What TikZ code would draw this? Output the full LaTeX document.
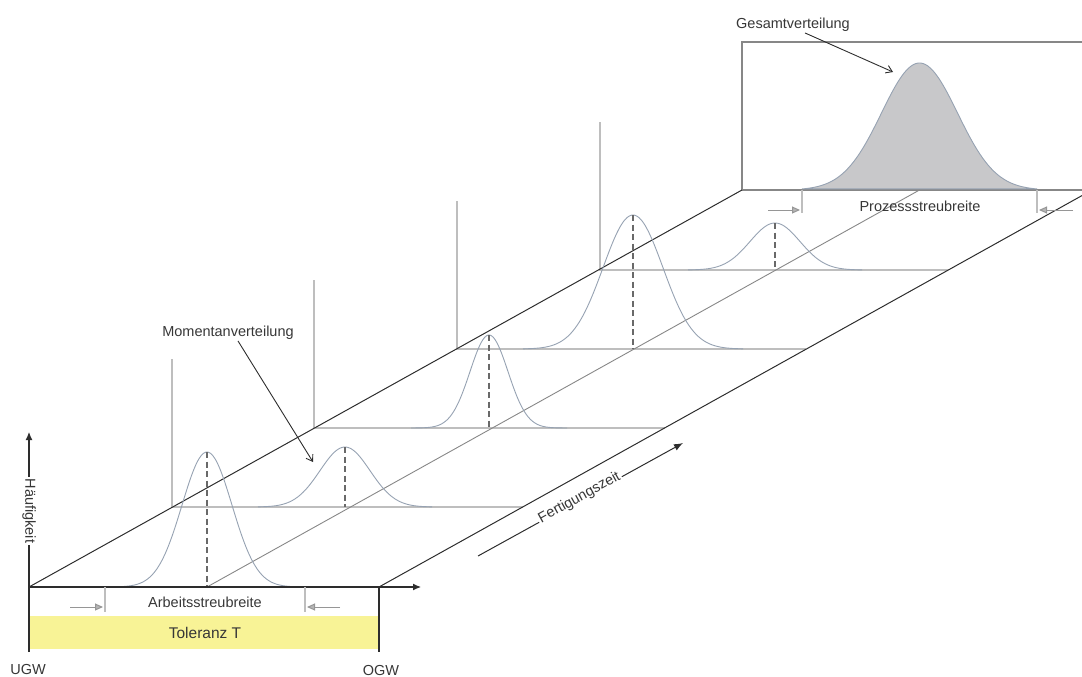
\documentclass[tikz,border=0pt]{standalone}
\usepackage{fontspec}
\setmainfont{Liberation Sans}
\usetikzlibrary{arrows.meta}
\definecolor{curvec}{RGB}{150,162,178}
\definecolor{slicec}{RGB}{190,190,190}
\definecolor{dashc}{RGB}{105,105,105}
\definecolor{diagc}{RGB}{45,45,45}
\definecolor{midc}{RGB}{135,135,135}
\definecolor{tolc}{RGB}{248,243,150}
\definecolor{fillc}{RGB}{200,200,202}
\definecolor{txtc}{RGB}{55,55,55}
\definecolor{spreadc}{RGB}{150,150,150}
\begin{document}
\begin{tikzpicture}[x=1pt,y=-1pt,
  lbl/.style={font=\fontsize{14.5}{16}\selectfont, text=txtc, inner sep=1pt},
  curve/.style={curvec, line width=0.9pt},
  sliceline/.style={slicec, line width=1.1pt},
  meanline/.style={dashc, dash pattern=on 6pt off 3.5pt, line width=1.1pt},
  diag/.style={diagc, line width=1pt},
  midline/.style={midc, line width=0.9pt},
  axisline/.style={diagc, line width=1.1pt},
  callout/.style={-{Straight Barb[length=6pt,width=8pt]}, line width=0.9pt, diagc},
  spread/.style={-{Triangle[length=8pt,width=7pt,fill=spreadc!70]}, spreadc, line width=1pt},
  boxline/.style={midc, line width=1.1pt}]
\useasboundingbox (0,0) rectangle (1082,677);
\clip (0,0) rectangle (1082,677);

% tolerance bar
\fill[tolc] (29,616) rectangle (379,649);
\node[lbl, font=\fontsize{15.5}{17}\selectfont] (tol) at (205,633) {Toleranz T};

% back box (Gesamtverteilung)
\coordinate (b5) at (742,190);
\draw[boxline] (1095,42) -- (742,42) -- (b5) -- (1095,190);
\filldraw[fill=fillc, draw=curvec, line width=0.9pt] plot[domain=802:1037, samples=100, smooth] (\x,{190-127*exp(-((\x-919.5)^2)/(2*38*38))}) -- cycle;

% slice planes
\coordinate (o1) at (172,507);
\coordinate (o2) at (314,428);
\coordinate (o3) at (457,349);
\coordinate (o4) at (600,270);
\draw[sliceline] (172,359) -- (o1) -- (523,507);
\draw[sliceline] (314,280) -- (o2) -- (665,428);
\draw[sliceline] (457,201) -- (o3) -- (806,349);
\draw[sliceline] (600,122) -- (o4) -- (948,270);

% diagonals
\coordinate (f0) at (29,587);
\coordinate (f1) at (379,587);
\coordinate (m0) at (207,587);
\draw[diag] (f0) -- (b5);
\draw[diag] (f1) -- (1092,190);
\draw[midline] (m0) -- (919.5,190);

% distributions
\draw[curve] plot[domain=107:307, samples=90, smooth] (\x,{587-135*exp(-((\x-207)^2)/(2*25*25))});
\draw[meanline] (207,452) -- (m0);
\draw[curve] plot[domain=258:432, samples=90, smooth] (\x,{507-60*exp(-((\x-345)^2)/(2*25*25))});
\draw[meanline] (345,447) -- (345,507);
\draw[curve] plot[domain=411:567, samples=90, smooth] (\x,{428-93*exp(-((\x-489)^2)/(2*19*19))});
\draw[meanline] (489,335) -- (489,428);
\draw[curve] plot[domain=523:743, samples=90, smooth] (\x,{349-134*exp(-((\x-633)^2)/(2*30*30))});
\draw[meanline] (633,215) -- (633,349);
\draw[curve] plot[domain=688:862, samples=90, smooth] (\x,{270-47*exp(-((\x-775)^2)/(2*25*25))});
\draw[meanline] (775,223) -- (775,270);

% front axes
\draw[axisline, -{Latex[length=8pt,width=7pt]}] (29,652) -- (29,432);
\draw[axisline, -{Latex[length=8pt,width=7pt]}] (f0) -- (421,587);
\draw[axisline] (f1) -- (379,652);
\node[lbl, rotate=-90, fill=white, inner sep=1.5pt] (hf) at (29,511) {Häufigkeit};

% Arbeitsstreubreite
\draw[sliceline] (105,587) -- (105,612);
\draw[sliceline] (305,587) -- (305,612);
\node[lbl] (asb) at (205,602) {Arbeitsstreubreite};
\coordinate (al) at (70,607);
\coordinate (ar) at (340,607);
\draw[spread] (al) -- (103,607);
\draw[spread] (ar) -- (307,607);

% Prozessstreubreite
\draw[sliceline] (802,190) -- (802,213);
\draw[sliceline] (1037,190) -- (1037,213);
\node[lbl] (psb) at (920,206) {Prozessstreubreite};
\draw[spread] (768,210) -- (800,210);
\draw[spread] (1073,210) -- (1039,210);

% labels
\node[lbl] (ugw) at (28,670) {UGW};
\node[lbl] (ogw) at (381,671) {OGW};
\node[lbl] (gv) at (793,25) {Gesamtverteilung};
\coordinate (gtip) at (893,72);
\draw[callout] ([xshift=12pt]gv.south) -- (gtip);
\node[lbl] (mv) at (228,333) {Momentanverteilung};
\coordinate (mtip) at (313,462);
\draw[callout] ([xshift=10pt]mv.south) -- (mtip);

% Fertigungszeit
\coordinate (fz0) at (478,556);
\coordinate (fz1) at (683,443);
\draw[axisline, line width=1pt, -{Latex[length=9pt,width=7pt]}] (fz0) -- (fz1) node[lbl, midway, sloped, fill=white, inner sep=1.5pt, yshift=2pt] (fz) {Fertigungszeit};
\end{tikzpicture}
\end{document}
